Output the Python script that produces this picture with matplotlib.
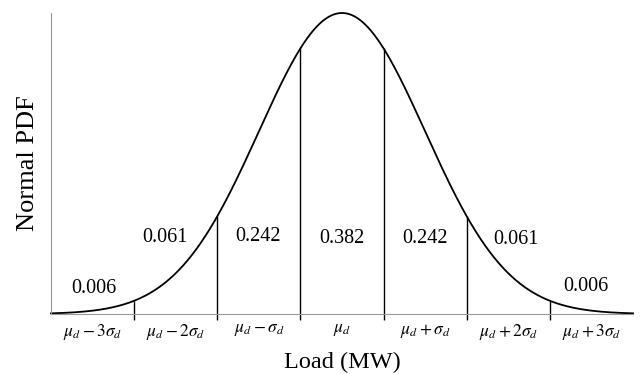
import numpy as np
import matplotlib
matplotlib.use("Agg")
import matplotlib.pyplot as plt

plt.rcParams['font.family'] = ['Liberation Serif', 'DejaVu Serif']
plt.rcParams['mathtext.fontset'] = 'stix'

# data (in units of sigma)
boundaries = [-2.5, -1.5, -0.5, 0.5, 1.5, 2.5]
tick_pos = [-3, -2, -1, 0, 1, 2, 3]
tick_labels = [r'$\mu_d - 3\sigma_d$', r'$\mu_d - 2\sigma_d$', r'$\mu_d - \sigma_d$',
               r'$\mu_d$', r'$\mu_d + \sigma_d$', r'$\mu_d + 2\sigma_d$', r'$\mu_d + 3\sigma_d$']
prob_labels = ['0.006', '0.061', '0.242', '0.382', '0.242', '0.061', '0.006']
prob_x = [-2.99, -2.13, -1.01, 0.0, 1.0, 2.09, 2.93]
prob_y = [0.034, 0.102, 0.103, 0.100, 0.100, 0.099, 0.036]

def pdf(x):
    return np.exp(-0.5 * np.asarray(x) ** 2) / np.sqrt(2 * np.pi)

fig = plt.figure(figsize=(6.42, 3.74), dpi=100)
ax = fig.add_axes([51/642, 60/374, 582/642, 301/374])

xs = np.linspace(-3.5, 3.5, 800)
ax.plot(xs, pdf(xs), color='black', lw=1.3, clip_on=False)
ax.vlines(boundaries, -0.008, pdf(boundaries), color='black', lw=1.0, clip_on=False)

for x, y, t in zip(prob_x, prob_y, prob_labels):
    ax.text(x, y, t, ha='center', va='center', fontsize=14.5)

ax.set_xlim(-3.5, 3.5)
ax.set_ylim(0, pdf(0) * 1.0)
ax.set_xticks(tick_pos)
ax.set_xticklabels(tick_labels, fontsize=12.5)
ax.tick_params(axis='x', length=0, pad=6)
ax.set_yticks([])
for s in ['top', 'right']:
    ax.spines[s].set_visible(False)
ax.spines['left'].set_color('#999999')
ax.spines['bottom'].set_color('#999999')
ax.set_xlabel('Load (MW)', fontsize=17.5, labelpad=7)
ax.set_ylabel('Normal PDF', fontsize=19, labelpad=9)

fig.savefig('out.png', dpi=100)
